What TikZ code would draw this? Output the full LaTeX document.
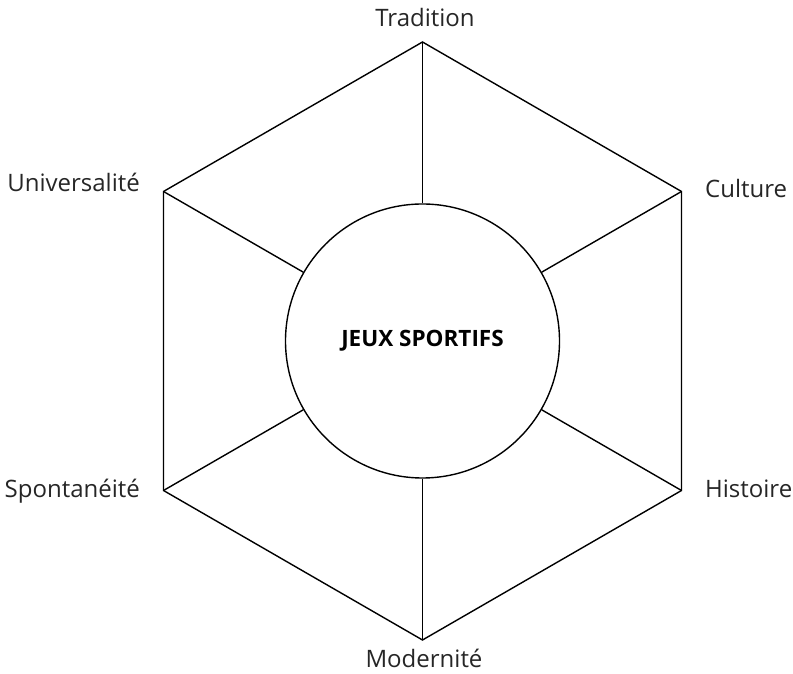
\documentclass[tikz,border=0pt]{standalone}
\usepackage{fontspec}
\setmainfont{Open Sans}
\begin{document}
\begin{tikzpicture}[x=1pt,y=1pt,
  edge/.style={line width=1.4pt,black},
  lbl/.style={font=\fontsize{24}{28}\selectfont, text=black!85, inner sep=0pt},
  hub/.style={circle, draw, line width=1.4pt, minimum size=274pt, inner sep=0pt,
    font=\bfseries\fontsize{22.5}{26}\selectfont}]
\useasboundingbox (0,0) rectangle (793,674);
\node[hub] (c) at (422.5,333) {JEUX SPORTIFS};
\coordinate (v1) at (422.5,632);
\coordinate (v2) at (681.5,482.5);
\coordinate (v3) at (681.5,183.5);
\coordinate (v4) at (422.5,34);
\coordinate (v5) at (163.5,183.5);
\coordinate (v6) at (163.5,482.5);
\draw[edge,line join=miter] (v1) -- (v2) -- (v3) -- (v4) -- (v5) -- (v6) -- cycle;
\foreach \v in {v1,v2,v3,v4,v5,v6} \draw[edge] (c) -- (\v);
\node[lbl, anchor=base] (t1) at (425,647) {Tradition};
\node[lbl, anchor=base west] (t2) at (705,476) {Culture};
\node[lbl, anchor=base west] (t3) at (705,176) {Histoire};
\node[lbl, anchor=base] (t4) at (424,6) {Modernité};
\node[lbl, anchor=base east] (t5) at (140,176) {Spontanéité};
\node[lbl, anchor=base east] (t6) at (140,482) {Universalité};
\end{tikzpicture}
\end{document}
